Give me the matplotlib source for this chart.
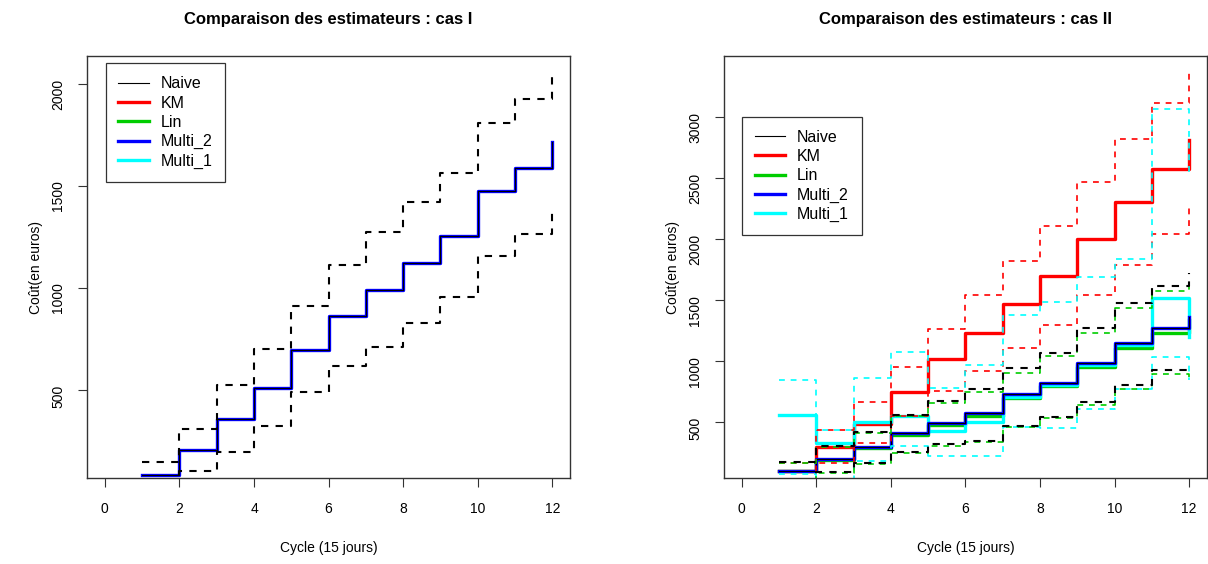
import matplotlib
matplotlib.use("Agg")
import matplotlib.pyplot as plt
from matplotlib.lines import Line2D

plt.rcParams['font.family'] = ['Liberation Sans', 'DejaVu Sans']

cycles = list(range(1, 13))

# cas I : all estimators give the same curve
naive1 = [83, 206, 358, 511, 696, 863, 990, 1121, 1255, 1477, 1591, 1717]
naive1_hi = [145, 309, 524, 699, 913, 1113, 1273, 1424, 1564, 1807, 1929, 2060]
naive1_lo = [50, 104, 194, 325, 492, 619, 712, 827, 956, 1157, 1265, 1371]

# cas II
naive2 = [101, 197, 296, 410, 497, 574, 730, 820, 983, 1147, 1275, 1365]
naive2_hi = [172, 306, 424, 560, 672, 776, 942, 1068, 1270, 1474, 1615, 1720]
naive2_lo = [30, 93, 164, 254, 320, 345, 473, 543, 669, 808, 925, 900]
km = [100, 301, 490, 751, 1016, 1229, 1469, 1701, 2004, 2307, 2574, 2812]
km_hi = [170, 440, 664, 956, 1267, 1540, 1822, 2108, 2465, 2825, 3120, 3371]
km_lo = [20, 170, 333, 555, 759, 923, 1112, 1297, 1543, 1788, 2040, 2280]
lin = [98, 192, 290, 398, 478, 554, 697, 795, 956, 1111, 1234, 1340]
lin_hi = [165, 300, 415, 550, 655, 751, 907, 1046, 1229, 1439, 1578, 1620]
lin_lo = [25, 88, 160, 246, 306, 340, 465, 533, 642, 773, 896, 870]
multi2 = [101, 197, 296, 410, 497, 574, 730, 820, 983, 1147, 1275, 1365]
multi1 = [560, 333, 505, 552, 429, 505, 710, 806, 970, 1133, 1516, 1201]
multi1_hi = [846, 437, 860, 1079, 778, 969, 1379, 1488, 1693, 1837, 3066, 2550]
multi1_lo = [77, 20, 186, 310, 228, 228, 464, 455, 611, 774, 1037, 846]

labels = ["Naive", "KM", "Lin", "Multi_2", "Multi_1"]
colors = ["black", "#FF0000", "#00CD00", "#0000FF", "#00FFFF"]

fig = plt.figure(figsize=(12.08, 5.64), dpi=100)
ax1 = fig.add_axes([0.072, 0.1525, 0.400, 0.748])
ax2 = fig.add_axes([0.5993, 0.1525, 0.3999, 0.748])

THICK = 2.4
DASH = (3.5, 3.5)


def style(ax, title, ylim, yticks):
    ax.set_xlim(-0.48, 12.48)
    ax.set_ylim(*ylim)
    ax.set_xticks(range(0, 13, 2))
    ax.set_yticks(yticks)
    ax.tick_params(direction='out', length=6.5, width=0.8, color='#333333',
                   labelsize=10, pad=11)
    ax.tick_params(axis='y', labelrotation=90, pad=9)
    for sp in ax.spines.values():
        sp.set_color('#333333')
        sp.set_linewidth(1)
    ax.set_title(title, fontsize=12, fontweight='bold', pad=23)
    ax.set_xlabel("Cycle (15 jours)", fontsize=10, labelpad=18)
    ax.set_ylabel("Coût(en euros)", fontsize=10, labelpad=6)


def legend(ax, anchor):
    handles = [Line2D([], [], color=colors[0], lw=0.8)]
    handles += [Line2D([], [], color=c, lw=THICK) for c in colors[1:]]
    leg = ax.legend(handles, labels, loc='upper left', bbox_to_anchor=anchor,
                    fontsize=11.5, fancybox=False, framealpha=1, edgecolor='#333333',
                    handlelength=1.9, handletextpad=0.75, labelspacing=0.27,
                    borderpad=0.8, borderaxespad=0)
    leg.get_frame().set_linewidth(0.9)


# cas I
ax1.step(cycles, naive1, where='post', color=colors[3], lw=THICK)
ax1.step(cycles, naive1, where='post', color='black', lw=0.8)
ax1.step(cycles, naive1_hi, where='post', color='black', lw=1.5, dashes=DASH)
ax1.step(cycles, naive1_lo, where='post', color='black', lw=1.5, dashes=DASH)
style(ax1, "Comparaison des estimateurs : cas I", (69, 2137), [500, 1000, 1500, 2000])
legend(ax1, (0.0387, 0.9827))

# cas II
ax2.step(cycles, km, where='post', color=colors[1], lw=THICK)
ax2.step(cycles, lin, where='post', color=colors[2], lw=THICK)
ax2.step(cycles, multi1, where='post', color=colors[4], lw=THICK)
ax2.step(cycles, multi2, where='post', color=colors[3], lw=THICK)
ax2.step(cycles, naive2, where='post', color='black', lw=0.8)
for hi, lo, c, w in [(km_hi, km_lo, colors[1], 1.2),
                     (multi1_hi, multi1_lo, colors[4], 1.2),
                     (lin_hi, lin_lo, colors[2], 1.2),
                     (naive2_hi, naive2_lo, 'black', 1.5)]:
    ax2.step(cycles, hi, where='post', color=c, lw=w, dashes=DASH)
    ax2.step(cycles, lo, where='post', color=c, lw=w, dashes=DASH)
style(ax2, "Comparaison des estimateurs : cas II", (44, 3500),
      [500, 1000, 1500, 2000, 2500, 3000])
legend(ax2, (0.0373, 0.856))

fig.savefig("out.png", dpi=100)
